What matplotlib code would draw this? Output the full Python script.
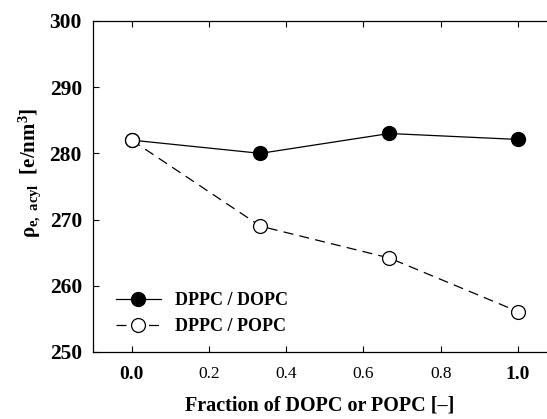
import matplotlib
matplotlib.use('Agg')
import matplotlib.pyplot as plt

plt.rcParams['font.family'] = ['Liberation Serif', 'DejaVu Serif']
plt.rcParams['mathtext.fontset'] = 'custom'
plt.rcParams['mathtext.rm'] = 'Liberation Serif:bold'
plt.rcParams['mathtext.it'] = 'Liberation Serif:bold'
plt.rcParams['mathtext.bf'] = 'Liberation Serif:bold'

# Data
fraction = [0.0, 1 / 3, 2 / 3, 1.0]
dppc_dopc = [282.0, 280.0, 283.0, 282.1]
dppc_popc = [282.0, 269.0, 264.2, 256.1]
x_ticks = [0.0, 0.2, 0.4, 0.6, 0.8, 1.0]
x_ticklabels = ['0.0', '0.2', '0.4', '0.6', '0.8', '1.0']
y_ticks = [250, 260, 270, 280, 290, 300]

fig = plt.figure(figsize=(5.47, 4.19), dpi=100)
ax = fig.add_axes([0.170, 0.160, 0.830, 0.790])

ax.plot(fraction, dppc_dopc, color='black', linestyle='-', linewidth=0.9,
        marker='o', markersize=10, markerfacecolor='black',
        markeredgecolor='black', label='DPPC / DOPC', zorder=3)
ax.plot(fraction, dppc_popc, color='black', linestyle=(0, (8, 5)), linewidth=0.9,
        marker='o', markersize=10, markerfacecolor='white',
        markeredgecolor='black', markeredgewidth=0.9, label='DPPC / POPC', zorder=3)

ax.set_xlim(-0.1, 1.075)
ax.set_ylim(250, 300)
ax.spines['right'].set_visible(False)
for s in ['left', 'top', 'bottom']:
    ax.spines[s].set_linewidth(0.9)

ax.set_xticks(x_ticks)
ax.set_xticklabels(x_ticklabels)
ax.set_yticks(y_ticks)
ax.tick_params(axis='x', direction='in', top=True, length=4, width=0.8, pad=10, labelsize=12.5)
ax.tick_params(axis='y', direction='in', length=4, width=0.8, pad=8, labelsize=15.5)
for lab in ax.get_yticklabels():
    lab.set_fontweight('bold')
xl = ax.get_xticklabels()
for i in (0, len(xl) - 1):
    xl[i].set_fontweight('bold')
    xl[i].set_fontsize(14)

ax.set_xlabel('Fraction of DOPC or POPC [\u2013]', fontsize=14.5, fontweight='bold', labelpad=9)
ax.set_ylabel(r'$\rho_{e,\ acyl}$  [e/nm$^3$]', fontsize=15, fontweight='bold')
ax.yaxis.set_label_coords(-0.11, 0.54)

ax.legend(loc='lower left', bbox_to_anchor=(0.05, 0.05), frameon=False,
          handlelength=2.5, handletextpad=0.8, labelspacing=0.5,
          borderpad=0, borderaxespad=0, prop={'weight': 'bold', 'size': 13})

fig.savefig('out.png', dpi=100)
